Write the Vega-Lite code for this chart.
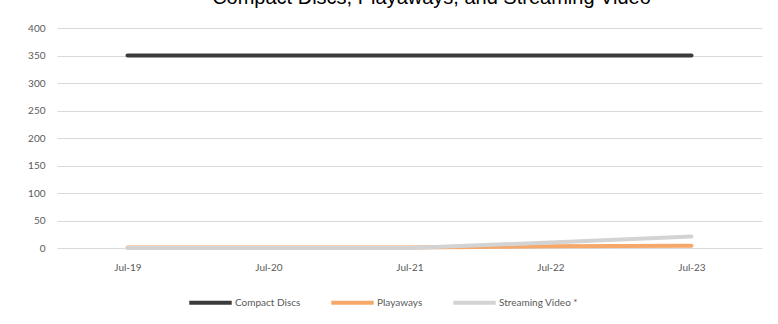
{
  "$schema": "https://vega.github.io/schema/vega-lite/v6.json",
  "autosize": {"type": "none"},
  "width": 705,
  "height": 220,
  "padding": {"left": 57, "top": 28, "right": 16, "bottom": 76},
  "background": "white",
  "title": {
    "text": "Compact Discs, Playaways, and Streaming Video",
    "font": "Liberation Sans",
    "fontSize": 20,
    "fontWeight": "normal",
    "color": "#000000",
    "baseline": "alphabetic",
    "offset": 10,
    "dy": 11,
    "dx": 22
  },
  "data": {
    "values": [
      {"month": "Jul-19", "series": "Compact Discs", "value": 350},
      {"month": "Jul-20", "series": "Compact Discs", "value": 350},
      {"month": "Jul-21", "series": "Compact Discs", "value": 350},
      {"month": "Jul-22", "series": "Compact Discs", "value": 350},
      {"month": "Jul-23", "series": "Compact Discs", "value": 350},
      {"month": "Jul-19", "series": "Playaways", "value": 1},
      {"month": "Jul-20", "series": "Playaways", "value": 1},
      {"month": "Jul-21", "series": "Playaways", "value": 1},
      {"month": "Jul-22", "series": "Playaways", "value": 3},
      {"month": "Jul-23", "series": "Playaways", "value": 4},
      {"month": "Jul-19", "series": "Streaming Video *", "value": 0},
      {"month": "Jul-20", "series": "Streaming Video *", "value": 0},
      {"month": "Jul-21", "series": "Streaming Video *", "value": 0},
      {"month": "Jul-22", "series": "Streaming Video *", "value": 10},
      {"month": "Jul-23", "series": "Streaming Video *", "value": 21}
    ]
  },
  "mark": {"type": "line", "strokeWidth": 4, "strokeCap": "round"},
  "encoding": {
    "x": {
      "field": "month",
      "type": "nominal",
      "sort": ["Jul-19", "Jul-20", "Jul-21", "Jul-22", "Jul-23"],
      "scale": {"type": "point", "padding": 0.5},
      "axis": {
        "title": null,
        "labelAngle": 0,
        "domain": false,
        "ticks": false,
        "grid": false,
        "labelPadding": 14,
        "labelFont": "Lato",
        "labelFontSize": 10,
        "labelColor": "#595959"
      }
    },
    "y": {
      "field": "value",
      "type": "quantitative",
      "scale": {"domain": [0, 400], "nice": false},
      "axis": {
        "title": null,
        "values": [0, 50, 100, 150, 200, 250, 300, 350, 400],
        "domain": false,
        "ticks": false,
        "gridColor": "#d9d9d9",
        "gridWidth": 1,
        "labelPadding": 12,
        "labelFont": "Lato",
        "labelFontSize": 10,
        "labelColor": "#595959"
      }
    },
    "color": {
      "field": "series",
      "type": "nominal",
      "scale": {
        "domain": ["Compact Discs", "Playaways", "Streaming Video *"],
        "range": ["#3b3b3b", "#f5a86a", "#d3d3d3"]
      },
      "legend": {
        "title": null,
        "orient": "none",
        "legendX": 130,
        "legendY": 251,
        "direction": "horizontal",
        "symbolType": "stroke",
        "symbolSize": 1800,
        "symbolStrokeWidth": 4,
        "labelFont": "Lato",
        "labelFontSize": 10,
        "labelColor": "#595959",
        "labelOffset": 1,
        "columnPadding": 22
      }
    }
  },
  "config": {"view": {"stroke": null}}
}
